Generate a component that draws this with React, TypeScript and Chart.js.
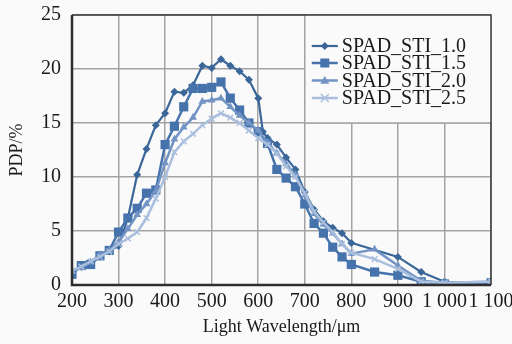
import { useEffect, useRef } from 'react';
import { Chart, registerables } from 'chart.js';

Chart.register(...registerables);

const SERIES_NAMES = ['SPAD_STI_1.0', 'SPAD_STI_1.5', 'SPAD_STI_2.0', 'SPAD_STI_2.5'];
const X_TICKS = [200, 300, 400, 500, 600, 700, 800, 900, 1000, 1100];
const X_TICK_LABELS = ['200', '300', '400', '500', '600', '700', '800', '900', '1 000', '1 100'];
const Y_TICKS = [0, 5, 10, 15, 20, 25];

const s1X = [200, 220, 240, 260, 280, 300, 320, 340, 360, 380, 400, 420, 440, 460, 480, 500, 520, 540, 560, 580, 600, 610, 620, 640, 660, 680, 700, 720, 740, 760, 780, 800, 900, 950, 1000, 1100];
const s1Y = [1.2, 1.7, 2.0, 2.7, 3.2, 3.6, 6.2, 10.2, 12.6, 14.8, 15.9, 17.9, 17.8, 18.5, 20.3, 20.1, 20.9, 20.3, 19.8, 19.0, 17.3, 14.2, 13.6, 13.0, 11.8, 10.7, 8.6, 7.0, 5.9, 5.3, 4.8, 3.9, 2.6, 1.2, 0.3, 0.1];

const s2X = [200, 220, 240, 260, 280, 300, 320, 340, 360, 380, 400, 420, 440, 460, 480, 500, 520, 540, 560, 580, 600, 620, 640, 660, 680, 700, 720, 740, 760, 780, 800, 850, 900, 950, 1000, 1100];
const s2Y = [1.0, 1.8, 1.9, 2.7, 3.2, 4.9, 6.2, 7.1, 8.5, 8.8, 13.0, 14.7, 16.5, 18.2, 18.2, 18.3, 18.8, 17.3, 16.2, 15.0, 14.2, 13.1, 10.7, 9.9, 9.1, 7.5, 5.7, 4.8, 3.5, 2.6, 1.9, 1.2, 0.9, 0.3, 0.1, 0.2];

const s3X = [200, 220, 240, 260, 280, 300, 320, 340, 360, 380, 400, 420, 440, 460, 480, 500, 520, 540, 560, 580, 600, 620, 640, 660, 680, 700, 720, 740, 760, 780, 800, 850, 900, 950, 1000, 1100];
const s3Y = [1.3, 1.6, 2.1, 2.8, 3.2, 4.0, 5.2, 6.5, 7.5, 8.7, 11.3, 13.5, 14.6, 15.5, 17.0, 17.1, 17.3, 16.5, 15.7, 15.0, 14.3, 13.2, 12.2, 11.2, 10.2, 8.3, 6.6, 5.6, 4.8, 3.8, 2.9, 3.3, 1.8, 0.4, 0.2, 0.3];

const s4X = [200, 220, 240, 260, 280, 300, 320, 340, 360, 380, 400, 420, 440, 460, 480, 500, 520, 540, 560, 580, 600, 620, 640, 660, 680, 700, 720, 740, 760, 780, 800, 850, 900, 950, 1000, 1100];
const s4Y = [1.3, 1.7, 2.2, 2.6, 3.1, 3.8, 4.3, 4.9, 6.2, 8.0, 10.0, 12.3, 13.3, 14.0, 14.8, 15.4, 15.9, 15.5, 15.0, 14.3, 13.6, 13.0, 12.2, 11.0, 10.0, 8.5, 6.8, 5.8, 4.9, 3.8, 3.0, 2.4, 1.5, 0.3, 0.2, 0.3];

const COLORS = ['#3a6698', '#4673ab', '#7294c4', '#a9bfdd'];
const POINT_STYLES = ['rectRot', 'rect', 'triangle', 'crossRot'];
const POINT_RADII = [4, 6.5, 4.5, 4];
const LINE_WIDTHS = [2.2, 2.5, 2.5, 2.5];

const FONT = "'Liberation Serif', 'Times New Roman', serif";
const BG = '#fafafa';
const GRID = '#a3a3a3';

const pts = (xs: number[], ys: number[]) => xs.map((x, i) => ({ x, y: ys[i] }));

const frame = {
  id: 'frame',
  beforeDraw(chart: any) {
    const { ctx } = chart;
    ctx.save();
    ctx.fillStyle = BG;
    ctx.fillRect(0, 0, chart.width, chart.height);
    ctx.restore();
  },
  afterDraw(chart: any) {
    const { ctx, chartArea: a, scales } = chart;
    ctx.save();
    const lx = scales.x.getPixelForValue(700);
    const ly = scales.y.getPixelForValue(15);
    ctx.fillStyle = BG;
    ctx.fillRect(lx, a.top, a.right - lx, ly - a.top);
    ctx.strokeStyle = GRID;
    ctx.lineWidth = 1.5;
    ctx.beginPath();
    ctx.moveTo(lx, a.top);
    ctx.lineTo(lx, ly);
    ctx.lineTo(a.right, ly);
    ctx.stroke();
    const rows = [31, 48, 65.5, 83];
    chart.data.datasets.forEach((ds: any, i: number) => {
      const y = a.top + rows[i];
      ctx.strokeStyle = ds.borderColor;
      ctx.lineWidth = ds.borderWidth;
      ctx.beginPath();
      ctx.moveTo(lx + 7, y);
      ctx.lineTo(lx + 33, y);
      ctx.stroke();
      ctx.fillStyle = ds.backgroundColor;
      ctx.strokeStyle = ds.borderColor;
      ctx.lineWidth = 1.5;
      const r = Math.min(ds.pointRadius, 4.5);
      const cx = lx + 20;
      ctx.beginPath();
      if (ds.pointStyle === 'rectRot') {
        ctx.moveTo(cx, y - r); ctx.lineTo(cx + r, y); ctx.lineTo(cx, y + r); ctx.lineTo(cx - r, y); ctx.closePath(); ctx.fill();
      } else if (ds.pointStyle === 'rect') {
        ctx.rect(cx - r, y - r, 2 * r, 2 * r); ctx.fill();
      } else if (ds.pointStyle === 'triangle') {
        ctx.moveTo(cx, y - r); ctx.lineTo(cx + r, y + r * 0.7); ctx.lineTo(cx - r, y + r * 0.7); ctx.closePath(); ctx.fill();
      } else {
        ctx.moveTo(cx - r, y - r); ctx.lineTo(cx + r, y + r); ctx.moveTo(cx + r, y - r); ctx.lineTo(cx - r, y + r); ctx.stroke();
      }
      ctx.fillStyle = '#1a1a1a';
      ctx.font = `20px ${FONT}`;
      ctx.textBaseline = 'middle';
      ctx.textAlign = 'left';
      ctx.fillText(SERIES_NAMES[i], lx + 37, y + 1);
    });
    ctx.strokeStyle = '#3a3a3a';
    ctx.lineWidth = 1.5;
    ctx.beginPath();
    ctx.moveTo(a.left, a.top);
    ctx.lineTo(a.right, a.top);
    ctx.lineTo(a.right, a.bottom);
    ctx.stroke();
    ctx.strokeStyle = '#2e2e2e';
    ctx.lineWidth = 2.5;
    ctx.beginPath();
    ctx.moveTo(a.left, a.top);
    ctx.lineTo(a.left, a.bottom);
    ctx.lineTo(a.right, a.bottom);
    ctx.stroke();
    ctx.restore();
  },
};

export default function App() {
  const ref = useRef<HTMLCanvasElement>(null);
  useEffect(() => {
    if (!ref.current) return;
    const seriesX = [s1X, s2X, s3X, s4X];
    const seriesY = [s1Y, s2Y, s3Y, s4Y];
    const chart = new Chart(ref.current, {
      type: 'line',
      data: {
        datasets: SERIES_NAMES.map((name, i) => ({
          label: name,
          data: pts(seriesX[i], seriesY[i]),
          borderColor: COLORS[i],
          backgroundColor: COLORS[i],
          borderWidth: LINE_WIDTHS[i],
          pointStyle: POINT_STYLES[i] as any,
          pointRadius: POINT_RADII[i],
          pointBorderWidth: i === 3 ? 1.5 : 0,
          pointBackgroundColor: COLORS[i],
          pointBorderColor: COLORS[i],
          tension: 0,
          order: 4 - i,
        })),
      },
      options: {
        animation: false,
        responsive: false,
        devicePixelRatio: 1,
        layout: { padding: { left: 0, top: 15, right: 49, bottom: 0 } },
        plugins: { legend: { display: false }, tooltip: { enabled: false } },
        scales: {
          x: {
            type: 'linear',
            min: 200,
            max: 1100,
            afterBuildTicks: (scale: any) => { scale.ticks = X_TICKS.map((v) => ({ value: v })); },
            afterFit: (scale: any) => { scale.height = 59; scale.paddingLeft = 0; scale.paddingRight = 0; },
            ticks: {
              autoSkip: false,
              maxRotation: 0,
              padding: 5,
              color: '#1a1a1a',
              font: { family: FONT, size: 20 },
              callback: (v: any) => X_TICK_LABELS[X_TICKS.indexOf(Number(v))] ?? '',
            },
            grid: { color: GRID, lineWidth: 1.5, drawTicks: false },
            border: { display: false },
            title: {
              display: true,
              text: 'Light Wavelength/μm',
              color: '#1a1a1a',
              font: { family: FONT, size: 18 },
              padding: { top: 0, bottom: 6 },
            },
          },
          y: {
            type: 'linear',
            min: 0,
            max: 25,
            afterBuildTicks: (scale: any) => { scale.ticks = Y_TICKS.map((v) => ({ value: v })); },
            afterFit: (scale: any) => { scale.width = 72; scale.paddingTop = 0; scale.paddingBottom = 0; },
            ticks: {
              padding: 11,
              color: '#1a1a1a',
              font: { family: FONT, size: 20 },
            },
            grid: { color: GRID, lineWidth: 1.5, drawTicks: false },
            border: { display: false },
            title: {
              display: true,
              text: 'PDP/%',
              color: '#1a1a1a',
              font: { family: FONT, size: 18 },
              padding: { top: 6, bottom: 0 },
            },
          },
        },
      },
      plugins: [frame],
    });
    return () => chart.destroy();
  }, []);
  return (
    <div style={{ position: 'fixed', left: 0, top: 0, width: 512, height: 344, overflow: 'hidden', background: BG }}>
      <canvas ref={ref} width={540} height={344} style={{ width: 540, height: 344, display: 'block' }} />
    </div>
  );
}
